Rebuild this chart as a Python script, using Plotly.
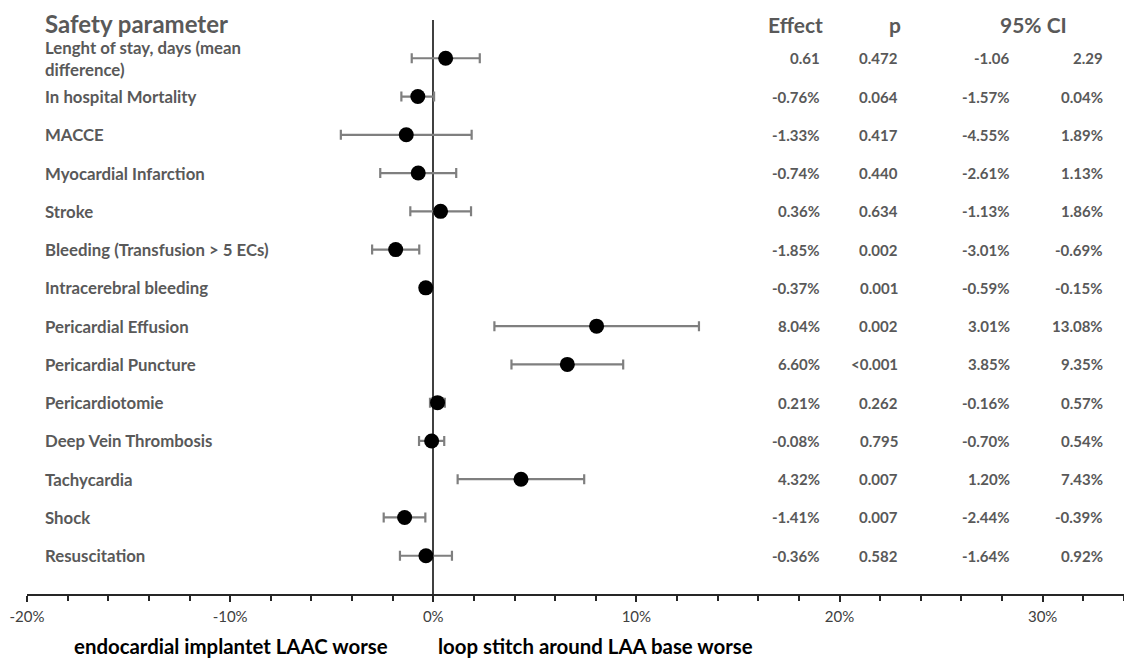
import plotly.graph_objects as go

params = ["Lenght of stay, days (mean<br>difference)", "In hospital Mortality", "MACCE",
          "Myocardial Infarction", "Stroke", "Bleeding (Transfusion > 5 ECs)",
          "Intracerebral bleeding", "Pericardial Effusion", "Pericardial Puncture",
          "Pericardiotomie", "Deep Vein Thrombosis", "Tachycardia", "Shock", "Resuscitation"]
effect = [0.61, -0.76, -1.33, -0.74, 0.36, -1.85, -0.37, 8.04, 6.60, 0.21, -0.08, 4.32, -1.41, -0.36]
p_vals = ["0.472", "0.064", "0.417", "0.440", "0.634", "0.002", "0.001", "0.002", "<0.001",
          "0.262", "0.795", "0.007", "0.007", "0.582"]
ci_low = [-1.06, -1.57, -4.55, -2.61, -1.13, -3.01, -0.59, 3.01, 3.85, -0.16, -0.70, 1.20, -2.44, -1.64]
ci_high = [2.29, 0.04, 1.89, 1.13, 1.86, -0.69, -0.15, 13.08, 9.35, 0.57, 0.54, 7.43, -0.39, 0.92]
is_percent = [False] + [True] * 13
tick_vals = [-20, -10, 0, 10, 20, 30]
tick_text = ["-20%", "-10%", "0%", "10%", "20%", "30%"]

n = len(params)
ypos = [n - i for i in range(n)]

def fmt(v, pct):
    return f"{v:.2f}%" if pct else f"{v:.2f}"

GRAY = "#595959"
FONT = "Lato"
OFF = 8  # page body margin

FW, FH = 1132 - OFF, 666 - OFF
L = 27 - OFF
R = 2
T = 20 - OFF
B = FH - (594 - OFF)
W = FW - L - R

def px(xp):
    return (xp - OFF - L) / W

fig = go.Figure()
fig.add_trace(go.Scatter(
    x=effect, y=ypos, mode="markers",
    marker=dict(color="black", size=15),
    error_x=dict(type="data", symmetric=False,
                 array=[h - e for h, e in zip(ci_high, effect)],
                 arrayminus=[e - l for e, l in zip(effect, ci_low)],
                 color="#7f7f7f", thickness=2.2, width=5),
    showlegend=False, hoverinfo="skip"))

ann = []
ann.append(dict(x=px(43), y=1, xref="paper", yref="paper", yshift=-3, text="<b>Safety parameter</b>",
                showarrow=False, xanchor="left", yanchor="middle",
                font=dict(size=24, color=GRAY, family=FONT)))
for xp, t, xa in [(825, "Effect", "right"), (895, "p", "center"), (1033, "95% CI", "center")]:
    ann.append(dict(x=px(xp), y=1, xref="paper", yref="paper", yshift=-4, text="<b>" + t + "</b>",
                    showarrow=False, xanchor=xa, yanchor="middle",
                    font=dict(size=21, color=GRAY, family=FONT)))

for i in range(n):
    y = ypos[i]
    ann.append(dict(x=px(43), y=y, xref="paper", yref="y", text="<b>" + params[i] + "</b>",
                    showarrow=False, xanchor="left", yanchor="middle", align="left",
                    font=dict(size=16.8, color=GRAY, family=FONT)))
    cols = [(822, fmt(effect[i], is_percent[i])), (900, p_vals[i]),
            (1012, fmt(ci_low[i], is_percent[i])), (1105, fmt(ci_high[i], is_percent[i]))]
    for xp, t in cols:
        ann.append(dict(x=px(xp), y=y, xref="paper", yref="y", text="<b>" + t + "</b>",
                        showarrow=False, xanchor="right", yanchor="middle",
                        font=dict(size=15, color=GRAY, family=FONT)))

for xp, t in [(231, "endocardial implantet LAAC worse"), (595, "loop stitch around LAA base worse")]:
    ann.append(dict(x=px(xp), y=0, xref="paper", yref="paper", yshift=-52, text="<b>" + t + "</b>",
                    showarrow=False, xanchor="center", yanchor="middle",
                    font=dict(size=20.4, color="black", family=FONT)))

fig.update_layout(
    width=FW, height=FH,
    margin=dict(l=L, r=R, t=T, b=B),
    plot_bgcolor="white", paper_bgcolor="white",
    annotations=ann,
    xaxis=dict(range=[-20, 34.3], tickvals=tick_vals, ticktext=tick_text,
               showgrid=False, zeroline=True, zerolinecolor="#404040", zerolinewidth=2,
               showline=True, linecolor="#262626", linewidth=2,
               ticks="outside", ticklen=6, tickcolor="#262626", tickwidth=1.5,
               ticklabelstandoff=2,
               minor=dict(dtick=2, tick0=0, ticks="outside", ticklen=5, tickcolor="#262626", tickwidth=1.5),
               tickfont=dict(size=15, color="#404040", family=FONT)),
    yaxis=dict(range=[0, 15], visible=False, showgrid=False, zeroline=False),
)
fig.write_html("out.html")
